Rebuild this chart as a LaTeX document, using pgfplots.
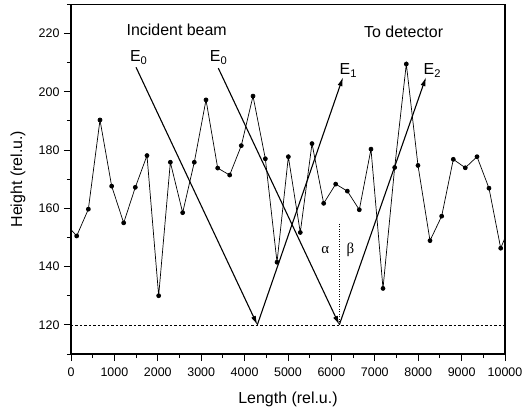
\documentclass[border=0pt]{standalone}
\usepackage{pgfplots}
\pgfplotsset{compat=1.18}
\usepackage{fontspec}
\setmainfont{Liberation Sans}
\newfontfamily\greekfont{Liberation Serif}
\usetikzlibrary{arrows.meta}

% surface profile: position along the sample vs. height
\pgfplotstableread{
x      y
-139   155.0
131    150.5
400    159.7
668    190.3
937    167.6
1214   155.0
1482   167.2
1751   178.1
2020   130.0
2289   175.8
2573   158.5
2841   175.8
3111   197.2
3380   173.8
3656   171.4
3924   181.5
4194   198.5
4478   177.0
4747   141.5
5008   177.7
5283   151.7
5553   182.2
5822   161.7
6099   168.3
6367   165.9
6643   159.5
6912   180.3
7189   132.5
7458   174.0
7726   209.5
7995   174.7
8272   148.9
8541   157.3
8809   176.8
9085   173.9
9355   177.7
9631   166.9
9901   146.3
10170  156.0
}\profile

\begin{document}
\begin{tikzpicture}
\path[use as bounding box] (-71bp,-58.3bp) rectangle (453bp,354bp);
\begin{axis}[
  at={(0,0)}, anchor=south west,
  scale only axis,
  width=434bp, height=349.7bp,
  xmin=0, xmax=10000, ymin=110, ymax=230,
  xtick={0,1000,...,10000},
  minor xtick={500,1500,...,9500},
  ytick={120,140,...,220},
  minor ytick={110,130,...,230},
  tick align=outside,
  xtick pos=bottom, ytick pos=left,
  major tick length=7bp, minor tick length=4bp,
  every tick/.style={black, line width=1pt},
  axis line style={line width=1.4pt},
  scaled x ticks=false,
  /pgf/number format/assume math mode=true,
  xticklabel style={font=\fontsize{12.5}{15}\selectfont, /pgf/number format/1000 sep={}, yshift=-3bp},
  yticklabel style={font=\fontsize{12.5}{15}\selectfont, xshift=-1bp},
  xlabel={Length (rel.u.)},
  ylabel={Height (rel.u.)},
  xlabel style={font=\fontsize{16}{19}\selectfont, at={(axis description cs:0.5,-0.131)}, anchor=center},
  ylabel style={font=\fontsize{16}{19}\selectfont, at={(axis description cs:-0.122,0.5)}, anchor=center},
  clip=true,
]
% reference level
\addplot[black, line width=0.5pt, dash pattern=on 2.5bp off 2bp] coordinates {(0,120) (10000,120)};
% surface normal at the second reflection point
\addplot[black, line width=0.5pt, dash pattern=on 1bp off 1.5bp] coordinates {(6182,120) (6182,155)};
% profile
\addplot[black, line width=0.7pt, mark=*, mark size=2bp] table[x=x, y=y] {\profile};
% incident and reflected beams
\addplot[black, line width=1.1pt, -{Latex[length=9bp,width=5bp]}] coordinates {(1498,208.4) (4293,120)};
\addplot[black, line width=1.1pt, -{Latex[length=9bp,width=5bp]}] coordinates {(3394,208.1) (6182,120)};
\addplot[black, line width=1.1pt, -{Latex[length=9bp,width=5bp]}] coordinates {(4293,120) (6267,205)};
\addplot[black, line width=1.1pt, -{Latex[length=9bp,width=5bp]}] coordinates {(6182,120) (8180,205)};

\node[font=\fontsize{16}{19}\selectfont] at (axis cs:2435,221.2) {Incident beam};
\node[font=\fontsize{16}{19}\selectfont] at (axis cs:7665,220.4) {To detector};
\node[font=\fontsize{16}{19}\selectfont] at (axis cs:1560,211.8) {E\textsubscript{0}};
\node[font=\fontsize{16}{19}\selectfont] at (axis cs:3400,211.8) {E\textsubscript{0}};
\node[font=\fontsize{16}{19}\selectfont] at (axis cs:6390,207.2) {E\textsubscript{1}};
\node[font=\fontsize{16}{19}\selectfont] at (axis cs:8325,207.2) {E\textsubscript{2}};
\node[font=\greekfont\fontsize{15}{18}\selectfont] at (axis cs:5860,145.6) {α};
\node[font=\greekfont\fontsize{15}{18}\selectfont] at (axis cs:6436,145.6) {β};
\end{axis}
\end{tikzpicture}
\end{document}
